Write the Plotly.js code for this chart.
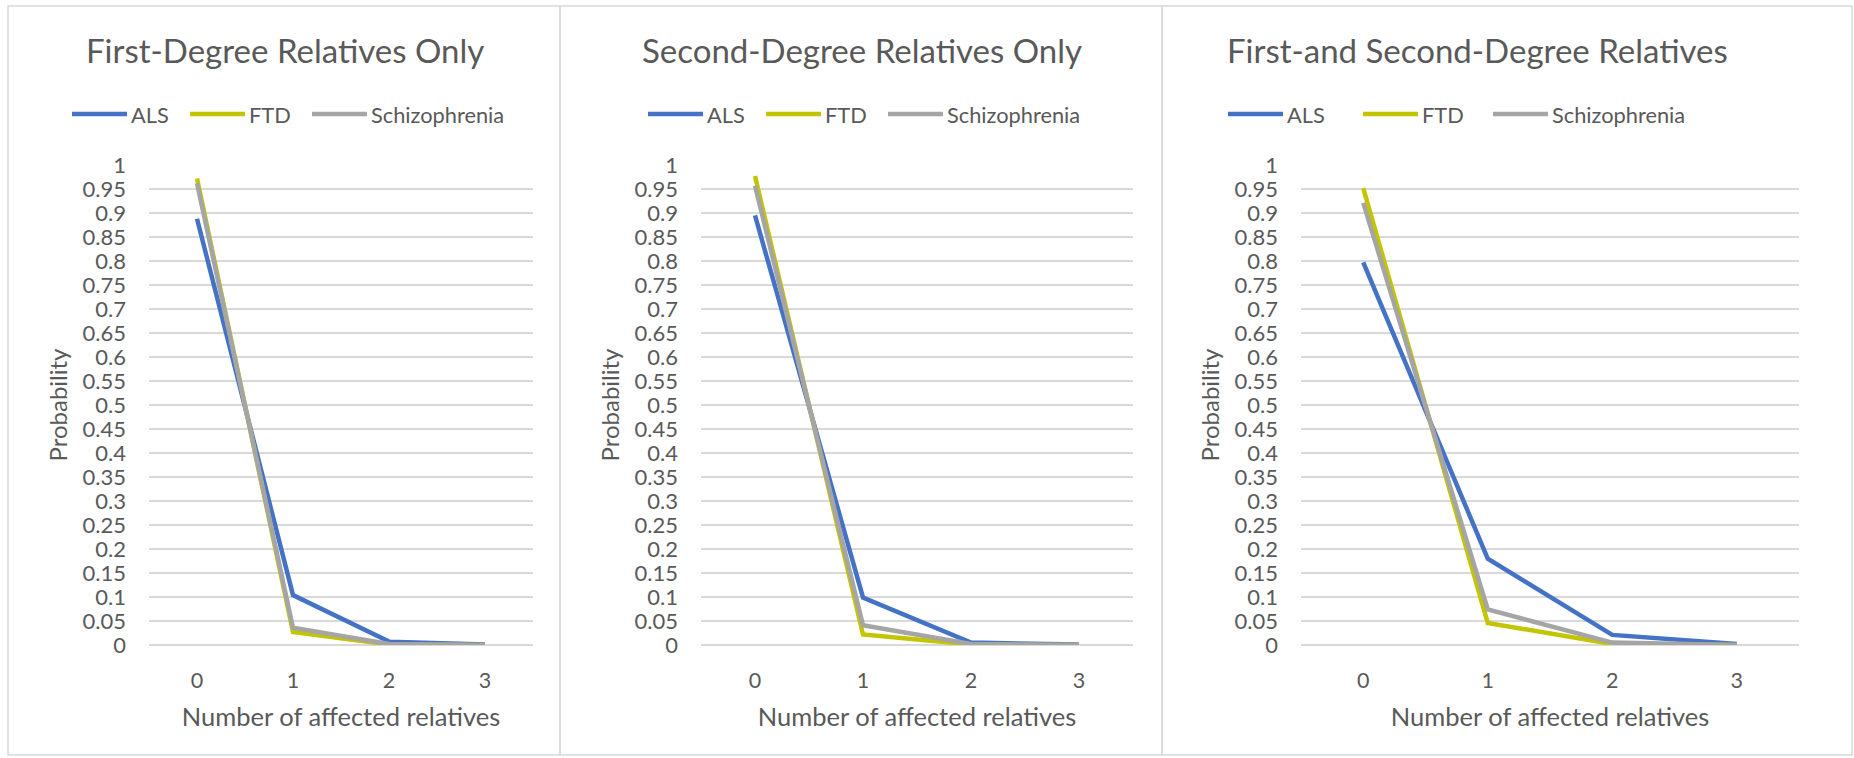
<!DOCTYPE html>
<html>
<head>
<meta charset="utf-8">
<script src="https://cdn.plot.ly/plotly-3.0.1.min.js"></script>
<style>
  html, body { margin: 0; padding: 0; background: #ffffff; }
  #chart { width: 1854px; height: 758px; }
</style>
</head>
<body>
<div id="chart"></div>
<script>
// Number of affected relatives (category axis)
const affected = ['0', '1', '2', '3'];
const seriesNames = ['ALS', 'FTD', 'Schizophrenia'];
const panelTitles = [
  'First-Degree Relatives Only',
  'Second-Degree Relatives Only',
  'First-and Second-Degree Relatives'
];
const xTitle = 'Number of affected relatives';
const yTitle = 'Probability';

// Probability of each count, first-degree relatives only
const firstALS    = [0.888, 0.104, 0.007, 0.001];
const firstFTD    = [0.972, 0.027, 0.001, 0.000];
const firstSchizo = [0.962, 0.036, 0.002, 0.000];

// Second-degree relatives only
const secondALS    = [0.895, 0.099, 0.005, 0.001];
const secondFTD    = [0.977, 0.022, 0.001, 0.000];
const secondSchizo = [0.957, 0.041, 0.002, 0.000];

// First- and second-degree relatives
const bothALS    = [0.797, 0.180, 0.021, 0.002];
const bothFTD    = [0.952, 0.046, 0.002, 0.000];
const bothSchizo = [0.921, 0.074, 0.005, 0.000];

const panelSeries = [
  [firstALS, firstFTD, firstSchizo],
  [secondALS, secondFTD, secondSchizo],
  [bothALS, bothFTD, bothSchizo]
];

// ---- styling / page geometry (pixels) ----
const W = 1854, H = 758;
const colors = ['#4472C4', '#C4C400', '#A5A5A5'];
const textColor = '#595959';
const gridColor = '#D9D9D9';
const FONT = 'Lato, "Open Sans", sans-serif';

const plotTop = 165, plotBottom = 645;
const plotX = [[149, 533], [701, 1133], [1301, 1799]];
const frames = [[8, 560], [560, 1162], [1162, 1852]];
const frameY = [6, 755];
const titleX = [285, 862, 1477];
const titleY = 50;
const legendStart = [72, 648, 1228];
const legendY = 114;
const legendOffsets = [[0, 118, 240], [0, 118, 240], [0, 135, 265]];
const sampleLen = 55;

const px = v => v / W;
const py = v => 1 - v / H;

const traces = [];
const layout = {
  width: W, height: H,
  margin: {l: 0, r: 0, t: 0, b: 0},
  paper_bgcolor: '#ffffff',
  plot_bgcolor: 'rgba(0,0,0,0)',
  showlegend: false,
  font: {family: FONT, color: textColor},
  shapes: [],
  annotations: []
};

panelSeries.forEach((series, p) => {
  const suffix = p === 0 ? '' : String(p + 1);
  const xa = 'x' + suffix, ya = 'y' + suffix;

  series.forEach((vals, s) => {
    traces.push({
      type: 'scatter', mode: 'lines',
      x: affected, y: vals,
      name: seriesNames[s],
      xaxis: xa, yaxis: ya,
      line: {color: colors[s], width: 4.5},
      hoverinfo: 'x+y+name'
    });
  });

  layout['xaxis' + suffix] = {
    domain: [px(plotX[p][0]), px(plotX[p][1])],
    anchor: ya,
    type: 'category',
    range: [-0.5, 3.5],
    showgrid: false, zeroline: false, showline: false,
    ticks: '',
    ticklabelstandoff: 20,
    tickfont: {family: FONT, size: 21.5, color: textColor},
    title: {text: xTitle, standoff: 16, font: {family: FONT, size: 25.5, color: textColor}},
    fixedrange: true
  };
  layout['yaxis' + suffix] = {
    domain: [py(plotBottom), py(plotTop)],
    anchor: xa,
    range: [0, 1],
    dtick: 0.05, tick0: 0,
    showgrid: true, gridcolor: gridColor, gridwidth: 1.5,
    zeroline: true, zerolinecolor: gridColor, zerolinewidth: 1.5,
    showline: false,
    ticks: '',
    ticklabelstandoff: 22,
    tickfont: {family: FONT, size: 22, color: textColor},
    title: {text: yTitle, standoff: 8, font: {family: FONT, size: 24, color: textColor}},
    fixedrange: true
  };

  // chart frame
  layout.shapes.push({
    type: 'rect', xref: 'paper', yref: 'paper', layer: 'below',
    x0: px(frames[p][0]), x1: px(frames[p][1]),
    y0: py(frameY[1]), y1: py(frameY[0]),
    line: {color: gridColor, width: 1.5}
  });

  // chart title
  layout.annotations.push({
    xref: 'paper', yref: 'paper',
    x: px(titleX[p]), y: py(titleY),
    xanchor: 'center', yanchor: 'middle',
    text: panelTitles[p], showarrow: false,
    font: {family: FONT, size: 33, color: textColor}
  });

  // legend row: line sample + label
  seriesNames.forEach((name, s) => {
    const x0 = legendStart[p] + legendOffsets[p][s];
    layout.shapes.push({
      type: 'line', xref: 'paper', yref: 'paper',
      x0: px(x0), x1: px(x0 + sampleLen),
      y0: py(legendY), y1: py(legendY),
      line: {color: colors[s], width: 4.5}
    });
    layout.annotations.push({
      xref: 'paper', yref: 'paper',
      x: px(x0 + sampleLen + 2), y: py(legendY),
      xanchor: 'left', yanchor: 'middle',
      text: name, showarrow: false,
      font: {family: FONT, size: 21.8, color: textColor}
    });
  });
});

Plotly.newPlot('chart', traces, layout, {displayModeBar: false, staticPlot: true});
</script>
</body>
</html>
